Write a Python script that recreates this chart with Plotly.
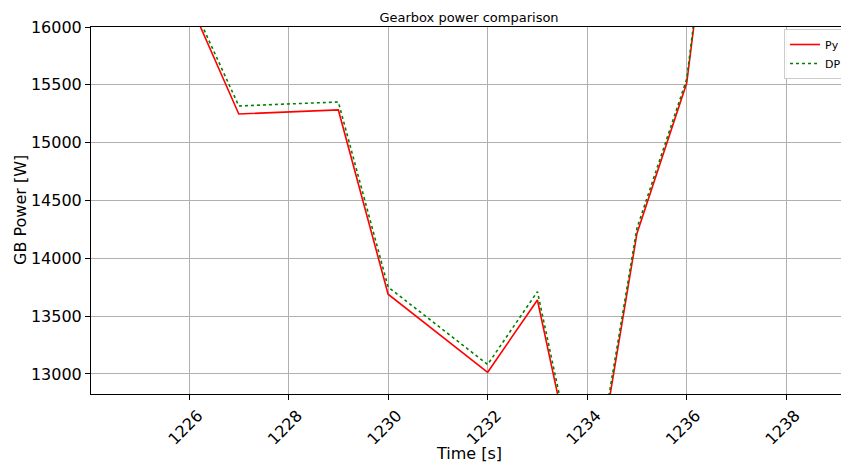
import plotly.graph_objects as go

time_s = [1226, 1227, 1229, 1230, 1232, 1233, 1234, 1235, 1236, 1237]
py_power = [16225, 15248, 15283, 13690, 13015, 13640, 11630, 14215, 15516, 18950]
dp_power = [16260, 15317, 15352, 13752, 13082, 13712, 11690, 14260, 15550, 18990]

x_ticks = [1226, 1228, 1230, 1232, 1234, 1236, 1238]
y_ticks = [13000, 13500, 14000, 14500, 15000, 15500, 16000]

FONT = "DejaVu Sans"
L, T, B, R = 91, 27, 73, 0
W, H = 841, 467
pw, ph = W - L - R, H - T - B

fig = go.Figure()
fig.add_trace(go.Scatter(x=time_s, y=py_power, mode="lines", name="Py",
                         line=dict(color="#ff0000", width=1.6)))
fig.add_trace(go.Scatter(x=time_s, y=dp_power, mode="lines", name="DP",
                         line=dict(color="#008000", width=1.6, dash="dot")))

fig.update_layout(
    width=W, height=H,
    margin=dict(l=L, r=R, t=T, b=B, autoexpand=False),
    paper_bgcolor="white", plot_bgcolor="white",
    font=dict(family=FONT, color="black"),
    title=dict(text="Gearbox power comparison", x=469/W, xref="container",
               xanchor="center", y=1 - 17/H, yref="container", yanchor="middle",
               font=dict(size=13, family=FONT, color="black")),
    showlegend=True,
    legend=dict(x=(784 - L) / pw, xanchor="left", y=1 - 2/ph, yanchor="top",
                bgcolor="rgba(255,255,255,0.9)", bordercolor="#cccccc", borderwidth=1,
                font=dict(size=11, family=FONT), tracegroupgap=0,
                itemwidth=30),
    xaxis=dict(range=[1224.03, 1239.1], tickvals=x_ticks, ticktext=[str(v) for v in x_ticks],
               tickangle=-45, tickfont=dict(size=16, family=FONT), automargin=False,
               ticklabelshift=9,
               showgrid=True, gridcolor="#b0b0b0", gridwidth=1,
               showline=True, linecolor="black", linewidth=1, mirror=True,
               ticks="outside", ticklen=5, tickcolor="black", zeroline=False),
    yaxis=dict(range=[12827, 16000], tickvals=y_ticks, ticktext=[str(v) for v in y_ticks],
               tickfont=dict(size=16, family=FONT), automargin=False,
               showgrid=True, gridcolor="#b0b0b0", gridwidth=1,
               showline=True, linecolor="black", linewidth=1,
               ticks="outside", ticklen=5, tickcolor="black", zeroline=False),
    annotations=[
        dict(text="Time [s]", x=(469 - L) / pw, y=(H - B - 453) / ph, xref="paper", yref="paper",
             showarrow=False, font=dict(size=16, family=FONT), xanchor="center", yanchor="middle"),
        dict(text="GB Power [W]", x=(20 - L) / pw, y=(H - B - 210) / ph, xref="paper", yref="paper",
             showarrow=False, textangle=-90, font=dict(size=16, family=FONT),
             xanchor="center", yanchor="middle"),
    ],
)

fig.write_html("out.html", config={"displayModeBar": False},
               post_script="document.body.style.margin='0';document.body.style.overflow='hidden';")
